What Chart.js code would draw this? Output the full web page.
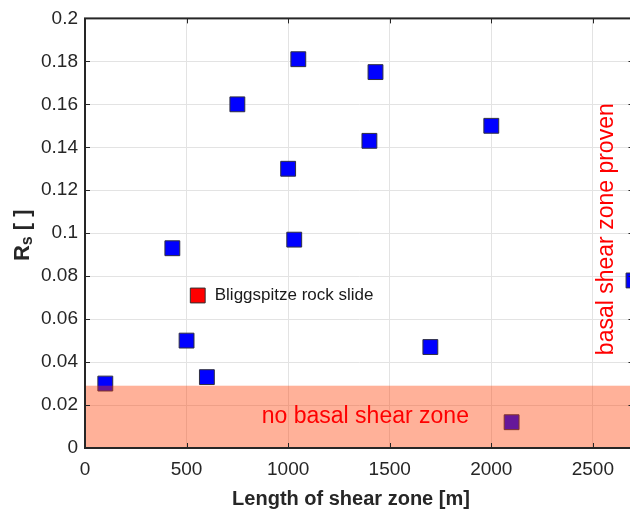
<!DOCTYPE html>
<html>
<head>
<meta charset="utf-8">
<script src="https://cdn.jsdelivr.net/npm/chart.js@4.4.1/dist/chart.umd.min.js"></script>
<style>
html,body{margin:0;padding:0;background:#fff;overflow:hidden;}
#wrap{position:relative;width:645px;height:511px;}
</style>
</head>
<body>
<div id="wrap"><canvas id="c" width="645" height="511"></canvas></div>
<script>
// ---- data ----
const shearLength = [100, 500, 600, 430, 750, 1000, 1030, 1050, 1400, 1430, 1700, 2000, 2100, 2700];
const rsValues    = [0.030, 0.050, 0.033, 0.093, 0.160, 0.130, 0.097, 0.181, 0.143, 0.175, 0.047, 0.150, 0.012, 0.078];
const bliggLength = [555];
const bliggRs     = [0.071];
const bliggLabel  = "Bliggspitze rock slide";
const noShearBand = [0, 0.029];
const xTicks = [0, 500, 1000, 1500, 2000, 2500];
const yTicks = [0, 0.02, 0.04, 0.06, 0.08, 0.1, 0.12, 0.14, 0.16, 0.18, 0.2];
const xRange = [0, 2700];
const yRange = [0, 0.2];
const xTitle = "Length of shear zone [m]";
const noShearText = "no basal shear zone";
const provenText = "basal shear zone proven";

const FONT = "'Liberation Sans', Arial, Helvetica, sans-serif";
const FRAME = '#262626';

const overlay = {
  id: 'overlay',
  afterDatasetsDraw(chart) {
    const {ctx, chartArea: a, scales: {x, y}} = chart;
    ctx.save();
    // band
    const yt = y.getPixelForValue(noShearBand[1]);
    const yb = y.getPixelForValue(noShearBand[0]);
    ctx.fillStyle = 'rgba(255,60,0,0.4)';
    ctx.fillRect(a.left, yt, a.right - a.left, yb - yt);
    // texts
    ctx.fillStyle = '#ff0000';
    ctx.font = "23px " + FONT;
    ctx.textAlign = 'center';
    ctx.textBaseline = 'middle';
    ctx.fillText(noShearText, x.getPixelForValue(1380), y.getPixelForValue(0.0145));
    ctx.save();
    ctx.translate(x.getPixelForValue(2568), (a.top + a.bottom) / 2 - 4);
    ctx.rotate(-Math.PI / 2);
    ctx.fillText(provenText, 0, 0);
    ctx.restore();
    ctx.fillStyle = '#1a1a1a';
    ctx.font = "17px " + FONT;
    ctx.textAlign = 'left';
    ctx.fillText(bliggLabel, x.getPixelForValue(bliggLength[0]) + 17, y.getPixelForValue(bliggRs[0]));
    ctx.restore();
  },
  afterDraw(chart) {
    const {ctx, chartArea: a, scales: {x, y}} = chart;
    ctx.save();
    ctx.strokeStyle = FRAME;
    ctx.lineWidth = 1;
    const tl = 5;
    ctx.beginPath();
    xTicks.forEach(v => {
      const px = Math.round(x.getPixelForValue(v)) + 0.5;
      ctx.moveTo(px, a.bottom); ctx.lineTo(px, a.bottom - tl);
      ctx.moveTo(px, a.top); ctx.lineTo(px, a.top + tl);
    });
    yTicks.forEach(v => {
      const py = Math.round(y.getPixelForValue(v)) + 0.5;
      ctx.moveTo(a.left, py); ctx.lineTo(a.left + tl, py);
      ctx.moveTo(a.right, py); ctx.lineTo(a.right - tl, py);
    });
    ctx.stroke();
    ctx.lineWidth = 2;
    ctx.strokeRect(a.left, a.top, a.right - a.left, a.bottom - a.top);
    // axis titles
    ctx.fillStyle = FRAME;
    ctx.font = "bold 20px " + FONT;
    ctx.textAlign = 'center';
    ctx.textBaseline = 'middle';
    ctx.fillText(xTitle, 351, 499);
    // y title: R with subscript s
    ctx.translate(21, (a.top + a.bottom) / 2 + 2);
    ctx.rotate(-Math.PI / 2);
    const fBig = "bold 22px " + FONT, fSmall = "bold 16px " + FONT;
    ctx.font = fBig; const wR = ctx.measureText("R").width;
    const wRest = ctx.measureText(" [ ]").width;
    ctx.font = fSmall; const wS = ctx.measureText("s").width;
    let sx = -(wR + wS + wRest) / 2;
    ctx.textAlign = 'left';
    ctx.textBaseline = 'alphabetic';
    ctx.font = fBig; ctx.fillText("R", sx, 8); sx += wR;
    ctx.font = fSmall; ctx.fillText("s", sx, 11); sx += wS;
    ctx.font = fBig; ctx.fillText(" [ ]", sx, 8);
    ctx.restore();
  }
};

new Chart(document.getElementById('c'), {
  type: 'scatter',
  data: {
    datasets: [
      {
        label: 'cases',
        data: shearLength.map((v, i) => ({x: v, y: rsValues[i]})),
        pointStyle: 'rect',
        pointRadius: 10.5,
        pointHoverRadius: 10.5,
        backgroundColor: '#0000ff',
        borderColor: '#303040',
        borderWidth: 1
      },
      {
        label: bliggLabel,
        data: bliggLength.map((v, i) => ({x: v, y: bliggRs[i]})),
        pointStyle: 'rect',
        pointRadius: 10.5,
        pointHoverRadius: 10.5,
        backgroundColor: '#ff0000',
        borderColor: '#303030',
        borderWidth: 1
      }
    ]
  },
  options: {
    responsive: false,
    animation: false,
    events: [],
    layout: {padding: {left: 0, top: 16, right: 11, bottom: 0}},
    plugins: {legend: {display: false}, tooltip: {enabled: false}},
    scales: {
      x: {
        type: 'linear',
        min: xRange[0], max: xRange[1],
        afterFit(s) { s.height = 63; },
        afterBuildTicks(s) { s.ticks = xTicks.map(v => ({value: v})); },
        grid: {color: '#e3e3e3', drawTicks: false, lineWidth: 1},
        border: {display: false},
        ticks: {color: FRAME, font: {family: FONT, size: 19}, padding: 10, maxRotation: 0,
                callback: v => String(v)}
      },
      y: {
        type: 'linear',
        min: yRange[0], max: yRange[1],
        afterFit(s) { s.width = 85; },
        afterBuildTicks(s) { s.ticks = yTicks.map(v => ({value: v})); },
        grid: {color: '#e3e3e3', drawTicks: false, lineWidth: 1},
        border: {display: false},
        ticks: {color: FRAME, font: {family: FONT, size: 19}, padding: 7,
                callback: v => String(Number(v.toFixed(3)))}
      }
    }
  },
  plugins: [overlay]
});
</script>
</body>
</html>
